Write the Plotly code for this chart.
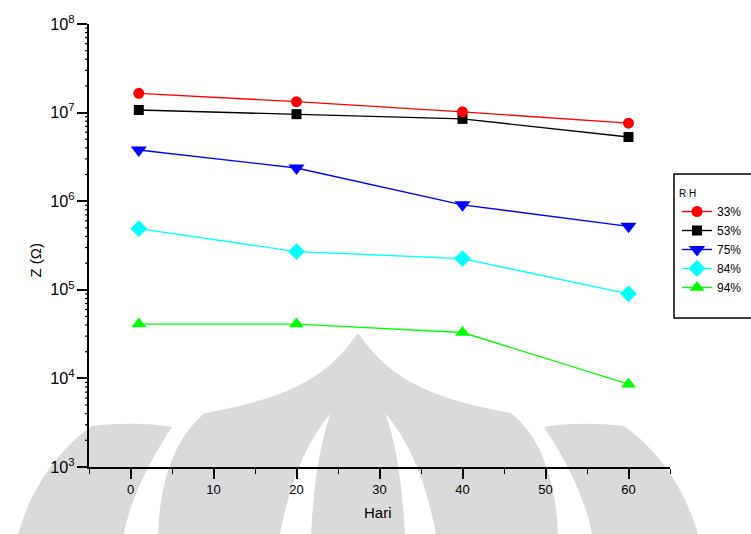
import math
import plotly.graph_objects as go

# Impedance vs. storage time at several relative humidities
days = [1, 20, 40, 60]
rh_labels = ["33%", "53%", "75%", "84%", "94%"]
z_33 = [1.65e7, 1.33e7, 1.02e7, 7.6e6]
z_53 = [1.07e7, 9.6e6, 8.5e6, 5.3e6]
z_75 = [3.78e6, 2.37e6, 9.1e5, 5.2e5]
z_84 = [4.9e5, 2.7e5, 2.25e5, 9.0e4]
z_94 = [4.1e4, 4.1e4, 3.3e4, 8.6e3]

y_range_exp = [3, 8]
x_ticks = [0, 10, 20, 30, 40, 50, 60]

series = [
    (rh_labels[0], z_33, "#ff0000", "circle", 11),
    (rh_labels[1], z_53, "#000000", "square", 10),
    (rh_labels[2], z_75, "#0000ff", "triangle-down", 14),
    (rh_labels[3], z_84, "#00ffff", "diamond", 13),
    (rh_labels[4], z_94, "#00ff00", "triangle-up", 13),
]

W, H = 751, 534
L, R, T, B = 89, 670, 24, 467


def px(x, y):
    """Pixel position -> paper coordinates."""
    return (x - L) / (R - L), (B - y) / (B - T)


def path(cmds):
    out = []
    for c in cmds:
        if isinstance(c, str):
            out.append(c)
        else:
            xs = []
            for i in range(0, len(c), 2):
                a, b = px(c[i], c[i + 1])
                xs.append(f"{a:.4f},{b:.4f}")
            out.append(" ".join(xs))
    return " ".join(out)


fig = go.Figure()

# traces added bottom-up so the 33% curve sits on top
for name, vals, color, sym, size in reversed(series):
    fig.add_trace(go.Scatter(
        x=days, y=vals, name=name, mode="lines+markers",
        line=dict(color=color, width=1.4),
        marker=dict(symbol=sym, size=size, color=color),
    ))

# faint background emblem
gray = "#dadada"
emblem = [
    # central pointed leaf
    ("M", (358, 333), "C", (330, 372, 300, 396, 205, 413), "C", (172, 440, 160, 485, 158, 534),
     "L", (558, 534), "C", (556, 485, 544, 440, 511, 413), "C", (416, 396, 386, 372, 358, 333), "Z", gray),
    # inner white crescents
    ("M", (331, 413), "C", (306, 442, 290, 482, 280, 534), "L", (311, 534), "C", (314, 482, 320, 442, 331, 413), "Z", "white"),
    ("M", (385, 413), "C", (396, 442, 402, 482, 405, 534), "L", (436, 534), "C", (426, 482, 410, 442, 385, 413), "Z", "white"),
    # side wings
    ("M", (92, 426), "C", (120, 423, 150, 423, 172, 427), "C", (150, 460, 130, 500, 124, 534),
     "L", (18, 534), "C", (30, 492, 55, 452, 92, 426), "Z", gray),
    ("M", (624, 426), "C", (596, 423, 566, 423, 544, 427), "C", (566, 460, 586, 500, 592, 534),
     "L", (698, 534), "C", (686, 492, 661, 452, 624, 426), "Z", gray),
]
for e in emblem:
    color = e[-1]
    fig.add_shape(type="path", xref="paper", yref="paper", layer="below",
                  path=path(list(e[:-1])), fillcolor=color, line=dict(width=0))

# minor log ticks (2..9 within each decade) on the left axis
span = y_range_exp[1] - y_range_exp[0]
tick_dx = 4 / (R - L)
for e in range(y_range_exp[0], y_range_exp[1]):
    for m in range(2, 10):
        yp = (math.log10(m * 10 ** e) - y_range_exp[0]) / span
        fig.add_shape(type="line", xref="paper", yref="paper",
                      x0=-tick_dx, x1=0, y0=yp, y1=yp,
                      line=dict(color="black", width=1.2))

# legend frame
x0, y0 = px(674, 174)
x1, y1 = px(790, 318)
fig.add_shape(type="rect", xref="paper", yref="paper", x0=x0, y0=y0, x1=x1, y1=y1,
              line=dict(color="black", width=1.5), fillcolor="rgba(0,0,0,0)")

lx, ly = px(677, 184)
ax_font = dict(family="Liberation Sans, Arial, sans-serif", size=13, color="black")

fig.update_layout(
    width=W, height=H,
    margin=dict(l=L, r=W - R, t=T, b=H - B, autoexpand=False),
    paper_bgcolor="white", plot_bgcolor="rgba(0,0,0,0)",
    showlegend=True,
    legend=dict(
        x=lx, y=ly, xanchor="left", yanchor="top",
        traceorder="reversed",
        title=dict(text="R H", font=dict(size=10, family="Liberation Sans, Arial", color="black")),
        font=dict(size=12, family="Liberation Sans, Arial", color="black"),
        bgcolor="rgba(0,0,0,0)", borderwidth=0,
        tracegroupgap=0, itemwidth=30,
    ),
    xaxis=dict(
        range=[-5, 65], tickvals=x_ticks, ticktext=[str(v) for v in x_ticks],
        showline=True, linecolor="black", linewidth=1.5,
        ticks="outside", ticklen=10, tickwidth=1.5, tickcolor="black",
        minor=dict(ticks="outside", ticklen=5, tickwidth=1.2, tickcolor="black", dtick=5, tick0=0),
        showgrid=False, zeroline=False, tickfont=ax_font,
    ),
    yaxis=dict(
        type="log", range=y_range_exp,
        tickmode="linear", tick0=0, dtick=1, exponentformat="power", showexponent="all",
        showline=True, linecolor="black", linewidth=1.5,
        ticks="outside", ticklen=10, tickwidth=1.5, tickcolor="black",
        showgrid=False, zeroline=False, tickfont=ax_font,
    ),
    annotations=[
        dict(text="Hari", xref="paper", yref="paper", x=px(378, 523)[0], y=px(378, 523)[1],
             showarrow=False, font=dict(family="Liberation Sans, Arial", size=15, color="black")),
        dict(text="Z (Ω)", xref="paper", yref="paper", x=px(24, 260)[0], y=px(24, 260)[1],
             textangle=-90, showarrow=False,
             font=dict(family="Liberation Sans, Arial", size=15, color="black")),
    ],
)

fig.write_html("out.html")
